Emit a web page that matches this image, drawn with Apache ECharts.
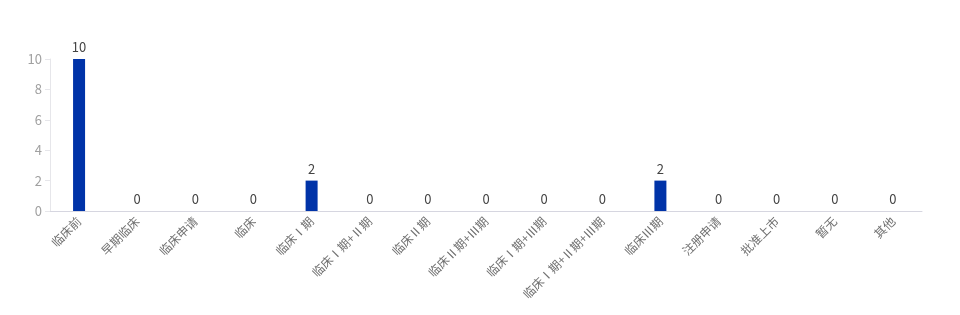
<!DOCTYPE html>
<html>
<head>
<meta charset="utf-8">
<script src="https://cdn.jsdelivr.net/npm/echarts@6/dist/echarts.min.js"></script>
<style>html,body{margin:0;padding:0;background:#fff;}#c{width:960px;height:315px;}</style>
</head>
<body>
<div id="c"></div>
<script>
var categories = ['临床前','早期临床','临床申请','临床','临床Ⅰ期','临床Ⅰ期+Ⅱ期','临床Ⅱ期','临床Ⅱ期+Ⅲ期','临床Ⅰ期+Ⅲ期','临床Ⅰ期+Ⅱ期+Ⅲ期','临床Ⅲ期','注册申请','批准上市','暂无','其他'];
var values = [10,0,0,0,2,0,0,0,0,0,2,0,0,0,0];

var chart = echarts.init(document.getElementById('c'));
chart.setOption({
  animation: false,
  textStyle: {fontFamily: '"Noto Sans CJK SC", "Noto Sans", sans-serif'},
  grid: {left: 50, right: 38, top: 59, bottom: 104, containLabel: false},
  xAxis: {
    type: 'category',
    data: categories,
    axisLine: {lineStyle: {color: '#d6d6e0'}},
    axisTick: {lineStyle: {color: '#d6d6e0'}},
    axisLabel: {rotate: 45, interval: 0, color: '#707070', fontSize: 12, margin: 8}
  },
  yAxis: {
    type: 'value',
    min: 0, max: 10, interval: 2,
    axisLine: {show: true, lineStyle: {color: '#e6e6ea'}},
    axisTick: {show: true, lineStyle: {color: '#e6e6ea'}},
    splitLine: {show: false},
    axisLabel: {color: '#a0a0a0', fontSize: 13}
  },
  series: [{
    type: 'bar',
    data: values,
    barWidth: 12,
    itemStyle: {color: '#0033a8'},
    label: {show: true, position: 'top', color: '#444', fontSize: 13}
  }]
});
</script>
</body>
</html>
